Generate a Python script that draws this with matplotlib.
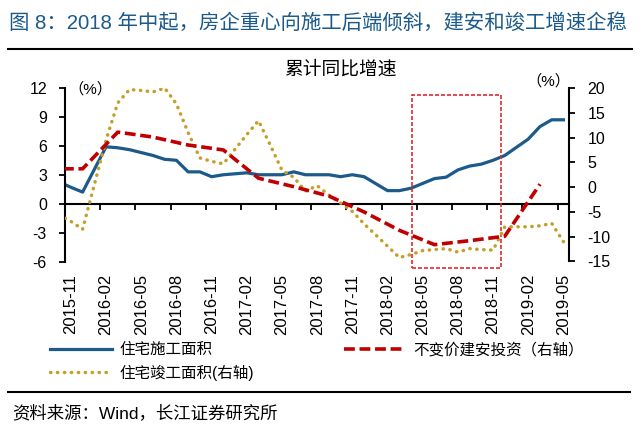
import matplotlib
matplotlib.use('Agg')
import matplotlib.pyplot as plt
from matplotlib.patches import Rectangle
from matplotlib.lines import Line2D

plt.rcParams['font.family'] = ['Liberation Sans', 'Noto Sans CJK SC']
plt.rcParams['axes.unicode_minus'] = False

# 月度数据（1月与2月合并发布，故无1月）
months = ['2015-10', '2015-11', '2015-12',
          '2016-02', '2016-03', '2016-04', '2016-05', '2016-06', '2016-07',
          '2016-08', '2016-09', '2016-10', '2016-11', '2016-12',
          '2017-02', '2017-03', '2017-04', '2017-05', '2017-06', '2017-07',
          '2017-08', '2017-09', '2017-10', '2017-11', '2017-12',
          '2018-02', '2018-03', '2018-04', '2018-05', '2018-06', '2018-07',
          '2018-08', '2018-09', '2018-10', '2018-11', '2018-12',
          '2019-02', '2019-03', '2019-04', '2019-05']

# 住宅施工面积（左轴）
housing_under_construction = [2.25, 1.7, 1.2,
                              5.9, 5.8, 5.6, 5.3, 5.0, 4.6,
                              4.5, 3.3, 3.3, 2.8, 3.0,
                              3.2, 3.0, 3.0, 3.0, 3.3, 3.0,
                              3.0, 3.0, 2.8, 3.0, 2.8,
                              1.35, 1.35, 1.6, 2.1, 2.6, 2.75,
                              3.5, 3.9, 4.1, 4.5, 5.0,
                              6.7, 8.0, 8.7, 8.7]

# 住宅竣工面积（右轴）
housing_completed = [-5.6, -6.9, -8.5,
                     9.5, 17.0, 19.7, 19.5, 19.2, 20.0,
                     16.8, 11.0, 5.9, 5.2, 4.7,
                     10.6, 13.4, 8.5, 3.4, 2.0, -0.8,
                     0.3, -1.6, -3.2, -4.9, -7.4,
                     -11.9, -14.2, -13.6, -12.8, -12.6, -12.4,
                     -13.1, -12.4, -12.6, -12.7, -8.0,
                     -8.0, -7.8, -7.3, -11.0]

# 不变价建安投资（季度，右轴）
quarters = ['2015-09', '2015-12', '2016-03', '2016-06', '2016-09', '2016-12',
            '2017-03', '2017-06', '2017-09', '2017-12', '2018-03', '2018-06',
            '2018-09', '2018-12', '2019-03']
construction_invest = [3.7, 3.7, 11.1, 10.1, 8.5, 7.5,
                       1.8, 0.1, -1.8, -5.0, -8.7, -11.6,
                       -10.8, -9.9, 0.6]

tick_labels = ['2015-11', '2016-02', '2016-05', '2016-08', '2016-11', '2017-02',
               '2017-05', '2017-08', '2017-11', '2018-02', '2018-05', '2018-08',
               '2018-11', '2019-02', '2019-05']

BLUE = '#1B5A8A'
RED = '#C00000'
GOLD = '#C4A02A'


def pos(m):
    y, mo = map(int, m.split('-'))
    return (y - 2015) * 12 + mo - 11


x_month = [pos(m) for m in months]
x_quarter = [pos(q) for q in quarters]
x_labels = [pos(t) for t in tick_labels]

fig = plt.figure(figsize=(6.4, 4.24), dpi=100)
ax = fig.add_axes([65 / 640, 1 - 261.5 / 424, (569.3 - 65) / 640, (261.5 - 88) / 424])
ax2 = ax.twinx()

l1, = ax.plot(x_month, housing_under_construction, color=BLUE, lw=2.3,
              solid_joinstyle='round', label='住宅施工面积')
l3, = ax2.plot(x_month, housing_completed, color=GOLD, lw=2.5,
               linestyle=(0, (0.1, 1.9)), dash_capstyle='round', label='住宅竣工面积(右轴)')
l2, = ax2.plot(x_quarter, construction_invest, color=RED, lw=2.6,
               linestyle=(0, (3.0, 1.3)), label='不变价建安投资（右轴）')

ax.set_xlim(-0.5, 42.5)
ax.set_ylim(-6, 12)
ax.set_yticks(range(-6, 13, 3))
ax2.set_ylim(-15, 20)
ax2.set_yticks(range(-15, 21, 5))

# x轴：零线上画刻度，标签放在底部
ax.spines['bottom'].set_position(('data', 0))
ax.spines['bottom'].set_linewidth(1.5)
ax.set_xticks([p - 0.5 for p in x_labels])
ax.tick_params(axis='x', direction='out', length=4, width=1.3, labelbottom=False)
sec = ax.secondary_xaxis('bottom')
sec.set_xticks(x_labels)
sec.set_xticklabels(tick_labels, rotation=90, fontsize=12)
sec.tick_params(length=0, pad=9)
sec.spines['bottom'].set_visible(False)

for s in ['top', 'right']:
    ax.spines[s].set_visible(False)
for s in ['top', 'left', 'bottom']:
    ax2.spines[s].set_visible(False)
ax.spines['left'].set_linewidth(1.5)
ax2.spines['right'].set_linewidth(1.5)
ax.tick_params(axis='y', direction='out', length=4, width=1.3, labelsize=11.5, pad=9)
ax2.tick_params(axis='y', direction='out', length=4, width=1.3, labelsize=11.5, pad=9)

# 红色虚线框
x0 = pos('2018-04') + 0.1
x1 = pos('2018-11') + 0.7
ax2.add_patch(Rectangle((x0, -16.4), x1 - x0, 34.9, fill=False, ec='#E8262B',
                        lw=1.2, ls=(0, (2.4, 1.2)), clip_on=False))

fig.text(90 / 640, 1 - 89 / 424, '（%）', ha='center', va='center', fontsize=11)
fig.text(548 / 640, 1 - 81 / 424, '（%）', ha='center', va='center', fontsize=11)
fig.text(340 / 640, 1 - 70 / 424, '累计同比增速', ha='center', va='center', fontsize=13.5)

fig.text(9 / 640, 1 - 23.5 / 424, '图 8：2018 年中起，房企重心向施工后端倾斜，建安和竣工增速企稳',
         ha='left', va='center', fontsize=14.7, color=BLUE)
fig.add_artist(Line2D([8 / 640, 632 / 640], [1 - 48.5 / 424] * 2, color='black', lw=1.5))
fig.add_artist(Line2D([8 / 640, 630 / 640], [1 - 392 / 424] * 2, color='black', lw=1.5))
fig.text(12 / 640, 1 - 413 / 424, '资料来源：Wind，长江证券研究所', ha='left', va='center', fontsize=12.5)

fig.legend(handles=[l1, l3, l2], loc='upper left', bbox_to_anchor=(50 / 640, 1 - 342 / 424),
           ncol=2, frameon=False, fontsize=11.2, handlelength=4.0, handletextpad=0.45,
           columnspacing=5.8, labelspacing=0.5, borderpad=0, borderaxespad=0)

fig.savefig('out.png', dpi=100)
